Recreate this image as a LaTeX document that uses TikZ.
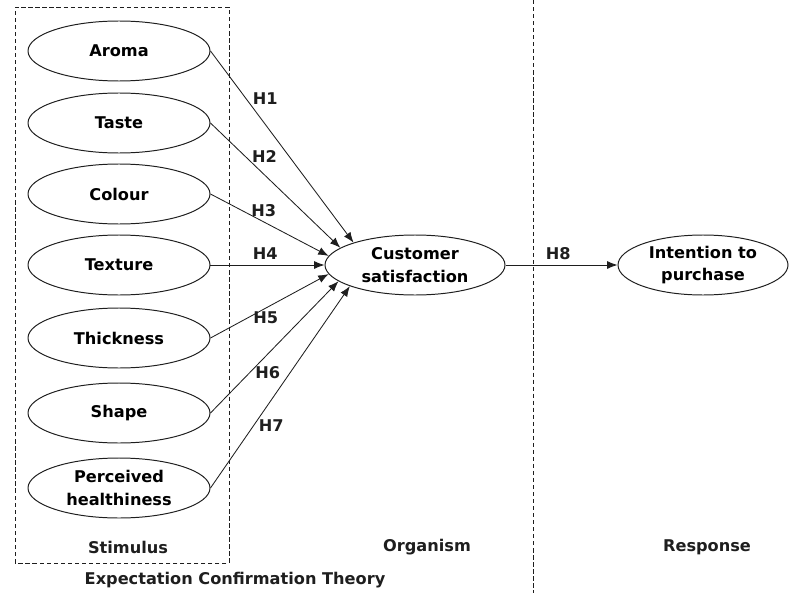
\documentclass[tikz,border=0pt]{standalone}
\usepackage{fontspec}
\setmainfont{DejaVu Sans}
\usetikzlibrary{
    arrows.meta,
    positioning,
    shapes.geometric
}
\definecolor{lineblack}{RGB}{30,30,30}
\tikzset{
    % Ellipse styles
    stim node/.style={
        draw=lineblack,
        ellipse,
        line width=0.7pt,
        minimum width=4.55cm,
        minimum height=1.5cm,
        inner sep=0pt,
        align=center,
        font=\fontsize{11.5}{16}\selectfont\bfseries
    },
    label text/.style={
        font=\fontsize{11.5}{16}\selectfont\bfseries,
        text=lineblack
    },
    % Arrow styles
    hyp arrow/.style={
        -{Latex[length=2.6mm,width=2mm]},
        line width=0.6pt,
        lineblack
    },
    % Frame styles
    frame line/.style={
        line width=0.6pt,
        lineblack,
        dash pattern=on 3pt off 2pt
    }
}

\begin{document}
\begin{tikzpicture}
        \useasboundingbox (0,0) rectangle (19.75,14.825);

        % Stimulus ellipses
        \foreach \y/\name/\txt in {13.55/aroma/Aroma,11.75/taste/Taste,9.975/colour/Colour,8.2/texture/Texture,6.375/thick/Thickness,4.5/shape/Shape,2.625/health/{Perceived\\healthiness}} {
            \node[stim node] at (2.975,\y) (\name) {\txt};
        }

        % Organism and response
        \node[stim node, minimum width=4.5cm] at (10.375,8.2) (cs) {Customer\\satisfaction};
        \node[stim node, minimum width=4.25cm] at (17.575,8.2) (ip) {Intention to\\purchase};

        % Frames
        \draw[frame line] (0.375,0.75) rectangle (5.725,14.65);
        \coordinate (top) at (13.325,14.825);
        \coordinate (bottom) at (13.325,0);
        \draw[frame line] (top) -- (bottom);

        % Hypotheses
        \draw[hyp arrow] (aroma.east) -- node[pos=0.25, right, xshift=1pt, label text] {H1} (cs.160);
        \draw[hyp arrow] (taste.east) -- node[pos=0.27, right, xshift=1pt, label text] {H2} (cs.167);
        \draw[hyp arrow] (colour.east) -- node[pos=0.45, above, label text] {H3} (cs.174);
        \draw[hyp arrow] (texture.east) -- node[pos=0.48, above, label text] {H4} (cs.west);
        \draw[hyp arrow] (thick.east) -- node[pos=0.32, right, label text] {H5} (cs.186);
        \draw[hyp arrow] (shape.east) -- node[pos=0.31, right, label text] {H6} (cs.192);
        \draw[hyp arrow] (health.east) -- node[pos=0.31, right, label text] {H7} (cs.198);
        \draw[hyp arrow] (cs.east) -- node[pos=0.47, above, label text] {H8} (ip.west);

        % Stage labels
        \node[label text] at (3.2,1.15) (stim) {Stimulus};
        \node[label text] at (10.675,1.15) (org) {Organism};
        \node[label text] at (17.675,1.15) (resp) {Response};
        \node[label text] at (5.875,0.325) (ect) {Expectation Confirmation Theory};
    \end{tikzpicture}
\end{document}
